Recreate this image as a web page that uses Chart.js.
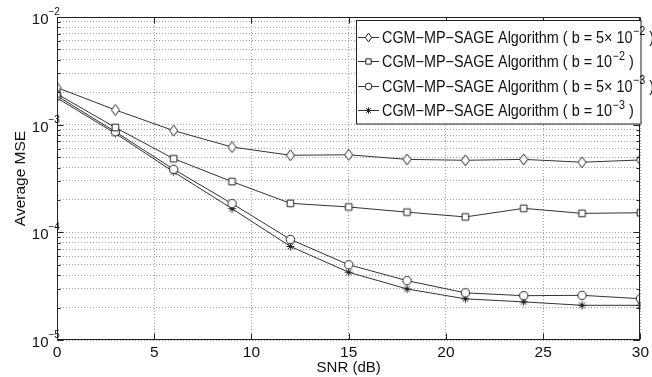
<!DOCTYPE html>
<html>
<head>
<meta charset="utf-8">
<script src="https://cdn.jsdelivr.net/npm/chart.js@4/dist/chart.umd.min.js"></script>
<style>
html,body{margin:0;padding:0;background:#fff;}
#wrap{width:652px;height:377px;}
</style>
</head>
<body>
<div id="wrap"><canvas id="c" width="652" height="377"></canvas></div>
<script>
// ---- data ----
const snr = [0, 3, 6, 9, 12, 15, 18, 21, 24, 27, 30];
const mseB5e2 = [2.21e-3, 1.37e-3, 8.8e-4, 6.2e-4, 5.2e-4, 5.25e-4, 4.76e-4, 4.67e-4, 4.76e-4, 4.48e-4, 4.7e-4];
const mseB1e2 = [1.93e-3, 9.4e-4, 4.83e-4, 2.96e-4, 1.86e-4, 1.72e-4, 1.54e-4, 1.39e-4, 1.67e-4, 1.50e-4, 1.52e-4];
const mseB5e3 = [1.85e-3, 8.6e-4, 3.85e-4, 1.85e-4, 8.6e-5, 5.0e-5, 3.56e-5, 2.74e-5, 2.58e-5, 2.6e-5, 2.42e-5];
const mseB1e3 = [1.77e-3, 8.3e-4, 3.64e-4, 1.66e-4, 7.4e-5, 4.26e-5, 2.98e-5, 2.41e-5, 2.26e-5, 2.1e-5, 2.1e-5];
const seriesNames = [
  ['CGM\u2212MP\u2212SAGE Algorithm ( b = 5\u00d7 10', '\u22122', ' )'],
  ['CGM\u2212MP\u2212SAGE Algorithm ( b = 10', '\u22122', ' )'],
  ['CGM\u2212MP\u2212SAGE Algorithm ( b = 5\u00d7 10', '\u22123', ' )'],
  ['CGM\u2212MP\u2212SAGE Algorithm ( b = 10', '\u22123', ' )']
];
const markerTypes = ['diamond', 'square', 'circle', 'star'];
const xTicks = [0, 5, 10, 15, 20, 25, 30];
const yExponents = [-5, -4, -3, -2];
const yMantissas = [1, 2, 3, 4, 5, 6, 7, 8, 9];
const xTitle = 'SNR (dB)';
const yTitle = 'Average MSE';

const INK = '#222';
const LINE = '#333';

function markerPath(ctx, type, cx, cy, s) {
  ctx.beginPath();
  if (type === 'diamond') {
    ctx.moveTo(cx, cy - 5.5 * s); ctx.lineTo(cx + 4 * s, cy); ctx.lineTo(cx, cy + 5.5 * s); ctx.lineTo(cx - 4 * s, cy); ctx.closePath();
    ctx.fill(); ctx.stroke();
  } else if (type === 'square') {
    ctx.rect(cx - 3.3 * s, cy - 3.3 * s, 6.6 * s, 6.6 * s); ctx.fill(); ctx.stroke();
  } else if (type === 'circle') {
    ctx.arc(cx, cy, 4.2 * s, 0, Math.PI * 2); ctx.fill(); ctx.stroke();
  } else {
    const r = 4 * s, d = r * 0.72;
    ctx.moveTo(cx - r, cy); ctx.lineTo(cx + r, cy);
    ctx.moveTo(cx, cy - r); ctx.lineTo(cx, cy + r);
    ctx.moveTo(cx - d, cy - d); ctx.lineTo(cx + d, cy + d);
    ctx.moveTo(cx - d, cy + d); ctx.lineTo(cx + d, cy - d);
    ctx.stroke();
  }
}
function makeMarker(type) {
  const cv = document.createElement('canvas');
  cv.width = 13; cv.height = 13;
  const ctx = cv.getContext('2d');
  ctx.fillStyle = '#fff'; ctx.strokeStyle = INK; ctx.lineWidth = 1;
  markerPath(ctx, type, 6.5, 6.5, 1);
  return cv;
}

const allSeries = [mseB5e2, mseB1e2, mseB5e3, mseB1e3];
const datasets = allSeries.map((vals, i) => ({
  label: seriesNames[i].join(''),
  data: snr.map((x, j) => ({x: x, y: vals[j]})),
  borderColor: LINE,
  backgroundColor: '#fff',
  borderWidth: 1,
  pointStyle: makeMarker(markerTypes[i]),
  pointRadius: 4,
  tension: 0
}));

const FONT = 'Liberation Sans, Arial, Helvetica, sans-serif';
const SQ = 0.9;

function squeezedText(ctx, txt, x, y, font) {
  ctx.font = font;
  ctx.save();
  ctx.translate(x, y);
  ctx.scale(SQ, 1);
  ctx.fillText(txt, 0, 0);
  ctx.restore();
  return ctx.measureText(txt).width * SQ;
}

const decor = {
  id: 'decor',
  afterDraw(chart) {
    const ctx = chart.ctx;
    const a = chart.chartArea;
    const xs = chart.scales.x, ys = chart.scales.y;
    ctx.save();
    // box
    ctx.strokeStyle = INK; ctx.lineWidth = 1;
    const L = Math.round(a.left) + 0.5, R = Math.round(a.right) - 0.5, T = Math.round(a.top) + 0.5, B = Math.round(a.bottom) - 0.5;
    ctx.strokeRect(L, T, R - L, B - T);
    // x ticks inward top & bottom
    ctx.beginPath();
    xTicks.forEach(v => {
      const px = Math.round(xs.getPixelForValue(v)) + 0.5;
      ctx.moveTo(px, B); ctx.lineTo(px, B - 6);
      ctx.moveTo(px, T); ctx.lineTo(px, T + 6);
    });
    // y ticks inward left & right
    yExponents.forEach(e => {
      yMantissas.forEach(m => {
        const v = m * Math.pow(10, e);
        if (v > ys.max * 1.0001) return;
        const py = Math.round(ys.getPixelForValue(v)) + 0.5;
        const len = m === 1 ? 6 : 3;
        ctx.moveTo(L, py); ctx.lineTo(L + len, py);
        ctx.moveTo(R, py); ctx.lineTo(R - len, py);
      });
    });
    ctx.stroke();
    // y tick labels with superscript
    ctx.fillStyle = '#111';
    yExponents.forEach(e => {
      const py = ys.getPixelForValue(Math.pow(10, e));
      ctx.font = '15px ' + FONT;
      ctx.textAlign = 'right'; ctx.textBaseline = 'alphabetic';
      ctx.fillText('10', 48.5, py + 7);
      ctx.font = '10px ' + FONT;
      ctx.textAlign = 'left';
      ctx.fillText('\u2212' + Math.abs(e), 48.5, py - 2);
    });
    // y title
    ctx.save();
    ctx.translate(21, (a.top + a.bottom) / 2);
    ctx.rotate(-Math.PI / 2);
    ctx.font = '15.5px ' + FONT;
    ctx.textAlign = 'center'; ctx.textBaseline = 'middle';
    ctx.fillText(yTitle, 0, 0);
    ctx.restore();
    // legend
    const bx = 356.5, by = 20.5, bw = 284.5, bh = 103.5;
    ctx.fillStyle = '#fff';
    ctx.fillRect(bx, by, bw, bh);
    ctx.strokeStyle = INK;
    ctx.strokeRect(bx, by, bw, bh);
    seriesNames.forEach((parts, i) => {
      const cy = 36.5 + i * 24.5;
      ctx.strokeStyle = LINE; ctx.lineWidth = 1;
      ctx.beginPath(); ctx.moveTo(358, Math.round(cy) + 0.5); ctx.lineTo(379, Math.round(cy) + 0.5); ctx.stroke();
      ctx.fillStyle = '#fff'; ctx.strokeStyle = INK;
      markerPath(ctx, markerTypes[i], 368.5, Math.round(cy) + 0.5, 0.8);
      ctx.fillStyle = '#111';
      ctx.textAlign = 'left'; ctx.textBaseline = 'alphabetic';
      let x = 382;
      x += squeezedText(ctx, parts[0], x, cy + 6, '16px ' + FONT) + 0.5;
      x += squeezedText(ctx, parts[1], x, cy - 1.5, '12px ' + FONT);
      squeezedText(ctx, parts[2], x, cy + 6, '16px ' + FONT);
    });
    ctx.restore();
  }
};

new Chart(document.getElementById('c'), {
  type: 'line',
  data: { datasets },
  options: {
    responsive: false,
    animation: false,
    devicePixelRatio: 1,
    layout: { padding: { left: 0, top: 17, right: 9, bottom: 0 } },
    plugins: { legend: { display: false }, tooltip: { enabled: false } },
    scales: {
      x: {
        type: 'linear', min: 0, max: 30,
        afterBuildTicks: s => { s.ticks = xTicks.map(v => ({value: v})); },
        afterFit: s => { s.height = 37; },
        ticks: { font: { family: FONT, size: 15.5 }, color: '#111', padding: 3, maxRotation: 0 },
        grid: { color: '#a0a0a0', lineWidth: 1, drawTicks: false },
        border: { display: false, dash: [1, 2] },
        title: { display: true, text: xTitle, font: { family: FONT, size: 15 }, color: '#111', padding: { top: 0, bottom: 0 } }
      },
      y: {
        type: 'logarithmic', min: 1e-5, max: 1e-2,
        afterBuildTicks: s => {
          const t = [];
          yExponents.forEach(e => yMantissas.forEach(m => { const v = m * Math.pow(10, e); if (v <= 1.0001e-2) t.push({value: v}); }));
          s.ticks = t;
        },
        afterFit: s => { s.width = 57; },
        ticks: { display: false },
        grid: { color: '#a0a0a0', lineWidth: 1, drawTicks: false },
        border: { display: false, dash: [1, 2] }
      }
    }
  },
  plugins: [decor]
});
</script>
</body>
</html>
